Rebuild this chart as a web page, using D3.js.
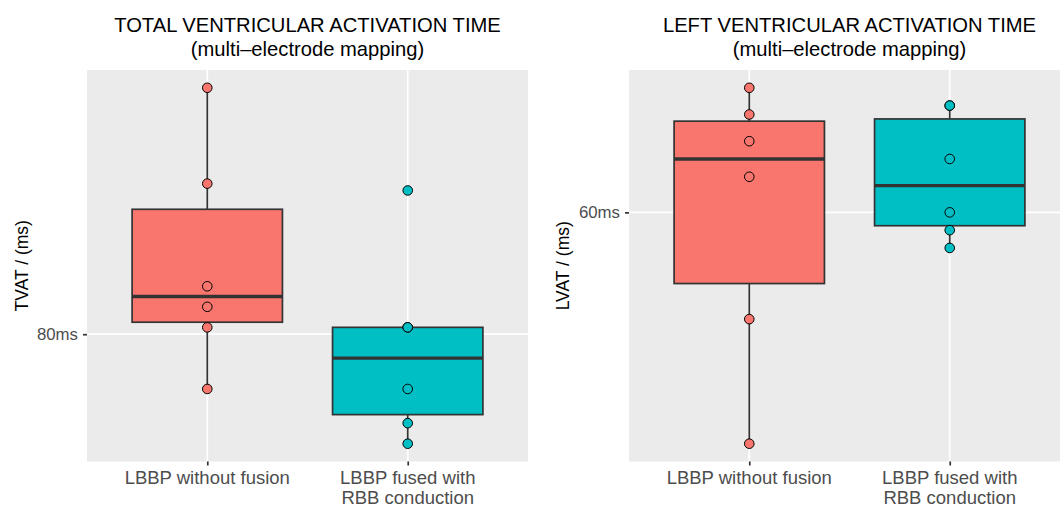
<!DOCTYPE html>
<html>
<head>
<meta charset="utf-8">
<script src="https://cdn.jsdelivr.net/npm/d3@7"></script>
<style>
  body { margin: 0; background: #fff; }
  text { font-family: "Liberation Sans", Arial, Helvetica, sans-serif; }
</style>
</head>
<body>
<div id="chart"></div>
<script>
// ---- data (ms) ----
var groups = ["LBBP without fusion", "LBBP fused with\nRBB conduction"];
var groupColors = ["#F8766D", "#00BFC4"];

var tvatNoFusion = [116, 102, 87, 84, 81, 72];
var tvatFused = [101, 81, 81, 72, 67, 64];
var tvatTicks = [80];

var lvatNoFusion = [67, 65.5, 64, 62, 54, 47];
var lvatFused = [66, 66, 63, 60, 59, 58];
var lvatTicks = [60];

var svgWidth = 1060;
var svgHeight = 506;

var svg = d3.select("#chart")
  .append("svg")
  .attr("width", svgWidth)
  .attr("height", svgHeight);

// box stats the ggplot way (type 7 quantiles, 1.5*IQR whiskers)
function boxStats(values) {
  var s = values.slice().sort(d3.ascending);
  var q1 = d3.quantile(s, 0.25);
  var med = d3.quantile(s, 0.5);
  var q3 = d3.quantile(s, 0.75);
  var iqr = q3 - q1;
  var lo = d3.min(s.filter(v => v >= q1 - 1.5 * iqr));
  var hi = d3.max(s.filter(v => v <= q3 + 1.5 * iqr));
  return {q1: q1, med: med, q3: q3, lo: lo, hi: hi};
}

function drawPanel(opt) {
  var left = opt.left, top = 70, width = 441, height = 391.5;
  var g = svg.append("g").attr("transform", `translate(${left}, ${top})`);

  var all = opt.series.flat();
  var ext = d3.extent(all);
  var pad = (ext[1] - ext[0]) * 0.05;
  var y = d3.scaleLinear()
    .domain([ext[0] - pad, ext[1] + pad])
    .range([height, 0]);
  var x = d3.scalePoint()
    .domain(groups)
    .range([0, width])
    .padding(0.6);
  var boxW = x.step() * 0.75;

  // panel background + grid
  g.append("rect")
    .attr("width", width)
    .attr("height", height)
    .attr("fill", "#EBEBEB");
  g.selectAll(".hgrid")
    .data(opt.ticks)
    .enter()
    .append("line")
    .attr("x1", 0)
    .attr("x2", width)
    .attr("y1", d => y(d))
    .attr("y2", d => y(d))
    .attr("stroke", "#fff")
    .attr("stroke-width", 1.7);
  g.selectAll(".vgrid")
    .data(groups)
    .enter()
    .append("line")
    .attr("x1", d => x(d))
    .attr("x2", d => x(d))
    .attr("y1", 0)
    .attr("y2", height)
    .attr("stroke", "#fff")
    .attr("stroke-width", 1.7);

  // boxes
  opt.series.forEach(function(vals, i) {
    var st = boxStats(vals);
    var cx = x(groups[i]);
    var bg = g.append("g");
    bg.append("line")
      .attr("x1", cx).attr("x2", cx)
      .attr("y1", y(st.hi)).attr("y2", y(st.q3))
      .attr("stroke", "#333").attr("stroke-width", 1.7);
    bg.append("line")
      .attr("x1", cx).attr("x2", cx)
      .attr("y1", y(st.q1)).attr("y2", y(st.lo))
      .attr("stroke", "#333").attr("stroke-width", 1.7);
    bg.append("rect")
      .attr("x", cx - boxW / 2)
      .attr("y", y(st.q3))
      .attr("width", boxW)
      .attr("height", y(st.q1) - y(st.q3))
      .attr("fill", groupColors[i])
      .attr("stroke", "#333")
      .attr("stroke-width", 1.7);
    bg.append("line")
      .attr("x1", cx - boxW / 2).attr("x2", cx + boxW / 2)
      .attr("y1", y(st.med)).attr("y2", y(st.med))
      .attr("stroke", "#333").attr("stroke-width", 3.4);
  });

  // points
  opt.series.forEach(function(vals, i) {
    g.selectAll(".pt" + i)
      .data(vals)
      .enter()
      .append("circle")
      .attr("cx", x(groups[i]))
      .attr("cy", d => y(d))
      .attr("r", 4.8)
      .attr("fill", groupColors[i])
      .attr("stroke", "#000")
      .attr("stroke-width", 1);
  });

  // y axis
  var yAxis = g.append("g")
    .call(d3.axisLeft(y).tickValues(opt.ticks).tickSize(4).tickPadding(5).tickFormat(d => d + "ms"));
  yAxis.select(".domain").remove();
  yAxis.selectAll(".tick line").attr("stroke", "#333").attr("stroke-width", 1.7);
  yAxis.selectAll(".tick text")
    .attr("fill", "#4D4D4D")
    .style("font-size", "16.8px");

  // x axis
  var xAxis = g.append("g")
    .attr("transform", `translate(0, ${height})`)
    .call(d3.axisBottom(x).tickSize(4).tickFormat(""));
  xAxis.select(".domain").remove();
  xAxis.selectAll(".tick line").attr("stroke", "#333").attr("stroke-width", 1.7);
  groups.forEach(function(lab) {
    var t = g.append("text")
      .attr("text-anchor", "middle")
      .attr("fill", "#4D4D4D")
      .style("font-size", "18.5px");
    lab.split("\n").forEach(function(line, k) {
      t.append("tspan")
        .attr("x", x(lab))
        .attr("y", height + 22 + k * 20)
        .text(line);
    });
  });

  // y axis title
  g.append("text")
    .attr("transform", `translate(${opt.ytitleX}, ${height / 2}) rotate(-90)`)
    .attr("text-anchor", "middle")
    .attr("fill", "#000")
    .style("font-size", "17.5px")
    .text(opt.ytitle);

  // plot title
  var title = g.append("text")
    .attr("text-anchor", "middle")
    .attr("fill", "#000")
    .style("font-size", "20.2px");
  opt.title.forEach(function(line, k) {
    title.append("tspan")
      .attr("x", width / 2)
      .attr("y", -38 + k * 23.5)
      .text(line);
  });
}

drawPanel({
  left: 87,
  series: [tvatNoFusion, tvatFused],
  ticks: tvatTicks,
  ytitle: "TVAT / (ms)",
  ytitleX: -59,
  title: ["TOTAL VENTRICULAR ACTIVATION TIME", "(multi\u2013electrode mapping)"]
});

drawPanel({
  left: 629,
  series: [lvatNoFusion, lvatFused],
  ticks: lvatTicks,
  ytitle: "LVAT / (ms)",
  ytitleX: -60,
  title: ["LEFT VENTRICULAR ACTIVATION TIME", "(multi\u2013electrode mapping)"]
});
</script>
</body>
</html>
